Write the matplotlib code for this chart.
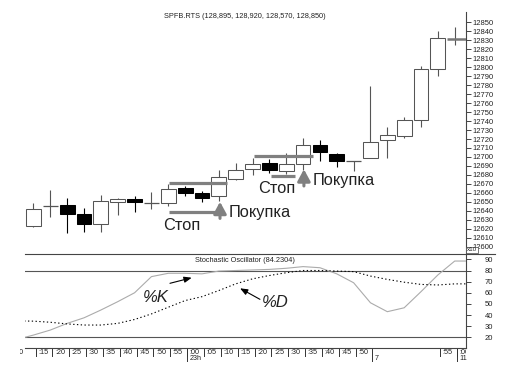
#!/usr/bin/env python3

import matplotlib
matplotlib.use('Agg')
import matplotlib.pyplot as plt
import numpy as np
from matplotlib.lines import Line2D
from matplotlib.transforms import Bbox, TransformedBbox

plt.rcParams['font.family'] = ['Liberation Sans', 'DejaVu Sans']

# --- dados ---
abertura = [12623.5, 12645, 12647, 12636.5, 12625, 12650, 12653, 12648.5, 12648.5, 12665,
            12659.5, 12656, 12676, 12686.5, 12693, 12684.5, 12692, 12713.5, 12703.5, 12695,
            12698.5, 12719, 12723.5, 12741, 12797.5, 12831]
maxima = [12648.5, 12663, 12654, 12643, 12657.5, 12654, 12656, 12661.5, 12669.5, 12667.5,
          12662.5, 12686, 12693.5, 12698.5, 12697.5, 12704, 12721, 12719, 12704, 12696,
          12779, 12733.5, 12745, 12801, 12840, 12845]
minima = [12622, 12633, 12615, 12617, 12617, 12635, 12639, 12642, 12645, 12656,
          12650, 12651, 12674, 12680, 12682.5, 12681, 12686, 12696, 12689, 12684,
          12698.5, 12699, 12721, 12733, 12790, 12824.5]
fechamento = [12642.5, 12645, 12637, 12625, 12651.5, 12653, 12650, 12648.5, 12664, 12659.5,
              12654.5, 12678, 12685.5, 12692, 12685.5, 12692, 12713.5, 12705, 12696, 12695,
              12717, 12724, 12741, 12797.5, 12832, 12831]

# estocástico: índices -1 .. 26
idx_osc = list(range(-1, 27))
pct_k = [18, 22, 26.5, 32.5, 37.5, 44.5, 52, 60, 74.5, 77.5, 77.5, 77, 79.5, 80, 80.5, 81,
         82, 83.5, 82.5, 77, 69, 51, 43, 46.5, 61, 76, 88.5, 88.5]
pct_d = [34.7, 34.5, 33.5, 32, 31, 31, 32.5, 36, 41, 47, 53, 56.5, 62, 68, 72.5, 75.5,
         78, 80, 80, 79.5, 79, 75, 72, 69.5, 67.5, 67, 68, 68]

# rótulos do eixo de tempo
minutos = [':15', ':20', ':25', ':30', ':35', ':40', ':45', ':50', ':55', ':00',
           ':05', ':10', ':15', ':20', ':25', ':30', ':35', ':40', ':45', ':50']
minutos_fim = {24: ':55', 25: ':00'}
maiores = {9: '23h', 20: '7', 25: '11'}

# níveis de stop / entrada
topo_linhas = [(12670.7, 8.04, 11.5), (12701.4, 13.09, 16.56)]
stop_linhas = [(12639.1, 8.06, 10.77), (12678.3, 14.1, 15.55)]
setas_compra = [(11.07, 12631.6, 12650.1), (16.05, 12667.7, 12686.3)]

W, H = 512, 371
fig = plt.figure(figsize=(W / 100, H / 100), dpi=100)

x0, x1 = 25, 466
y_sep, y_eixo = 253.7, 348.3
ax1 = fig.add_axes([x0 / W, 1 - y_sep / H, (x1 - x0) / W, y_sep / H])
ax2 = fig.add_axes([x0 / W, 1 - y_eixo / H, (x1 - x0) / W, (y_eixo - y_sep) / H], sharex=ax1)

cor_borda = '#555555'
for i in range(len(abertura)):
    o, h, l, c = abertura[i], maxima[i], minima[i], fechamento[i]
    preto = c < o
    ax1.vlines(i, l, h, color='black' if preto else cor_borda, lw=0.8, zorder=2)
    if o == c:
        if i == len(abertura) - 1:
            ax1.hlines(c, i - 0.44, 25.7, color='#777777', lw=1.8, zorder=3)
        else:
            ax1.hlines(c, i - 0.44, i + 0.44, color=cor_borda, lw=0.9, zorder=3)
        continue
    ax1.bar(i, abs(c - o), bottom=min(o, c), width=0.88,
            facecolor='black' if preto else 'white',
            edgecolor='black' if preto else cor_borda, lw=0.75, zorder=3)

for y, a, b in topo_linhas + stop_linhas:
    ax1.hlines(y, a, b, color='#808080', lw=2.3, zorder=4)
for x, base, ponta in setas_compra:
    ax1.annotate('', xy=(x, ponta), xytext=(x, base),
                 arrowprops=dict(arrowstyle='-|>,head_width=0.38,head_length=0.7',
                                 color='#808080', lw=2.2, shrinkA=0, shrinkB=0), zorder=5)

ax1.text(7.7, 12619, 'Стоп', fontsize=11.8, color='#222222', va='baseline')
ax1.text(11.57, 12633.7, 'Покупка', fontsize=11.8, color='#222222', va='baseline')
ax1.text(13.34, 12659.4, 'Стоп', fontsize=11.8, color='#222222', va='baseline')
ax1.text(16.57, 12668.3, 'Покупка', fontsize=11.8, color='#222222', va='baseline')

ax1.set_xlim(-0.504, 25.67)
ax1.set_ylim(12592.3, 12874.8)
for s in ['left', 'top', 'bottom']:
    ax1.spines[s].set_visible(False)
ax1.spines['right'].set_color('#444444')
ax1.spines['right'].set_linewidth(0.8)
ax1.spines['right'].set_bounds(12592.3, 12861)
ax1.yaxis.tick_right()
ax1.set_yticks(np.arange(12600, 12851, 10))
ax1.tick_params(axis='y', direction='out', length=3.6, width=0.7, color='#444444',
                labelsize=5.5, pad=1, labelcolor='#222222')
ax1.tick_params(axis='x', bottom=False, labelbottom=False)
ax1.text(25.72, 12596.5, 'x10', fontsize=4.5, color='#222222', va='center', ha='left',
         bbox=dict(boxstyle='square,pad=0.1', fc='white', ec='#444444', lw=0.5), zorder=6,
         clip_on=False)

# --- oscilador ---
ax2.plot(idx_osc, pct_k, color='#ababab', lw=0.8, zorder=3)
ax2.plot(idx_osc, pct_d, color='black', lw=0.8, ls=(0, (1.2, 2.2)), zorder=3)
ax2.axhline(80, color='#555555', lw=0.8, zorder=2)
ax2.axhline(20, color='#555555', lw=0.8, zorder=2)
ax2.set_ylim(10.1, 95.1)
ax2.spines['left'].set_visible(False)
for s in ['top', 'bottom', 'right']:
    ax2.spines[s].set_color('#444444')
    ax2.spines[s].set_linewidth(0.8)
ax2.yaxis.tick_right()
ax2.set_yticks(np.arange(20, 91, 10))
ax2.tick_params(axis='y', direction='out', length=3.6, width=0.7, color='#444444',
                labelsize=5.5, pad=10, labelcolor='#222222')
ax2.set_xticks([])

ax2.text(6.48, 52, '%K', fontsize=12, style='italic', color='#222222', va='baseline')
ax2.annotate('', xy=(9.39, 73.5), xytext=(8.10, 68.5),
             arrowprops=dict(arrowstyle='-|>,head_width=0.18,head_length=0.45',
                             color='black', lw=0.8, shrinkA=0, shrinkB=0))
ax2.text(13.54, 47.5, '%D', fontsize=12, style='italic', color='#222222', va='baseline')
ax2.annotate('', xy=(12.26, 64), xytext=(13.44, 54.1),
             arrowprops=dict(arrowstyle='-|>,head_width=0.18,head_length=0.45',
                             color='black', lw=0.8, shrinkA=0, shrinkB=0))

# eixo de tempo desenhado à mão (rótulos à direita das marcas)
trans = ax2.get_xaxis_transform()
alt = y_eixo - y_sep
clip = TransformedBbox(Bbox.from_extents(20 / W, 0, x1 / W, 1), fig.transFigure)
desloc = 0.12
marcas = list(enumerate(minutos)) + list(minutos_fim.items())
for i, rot in marcas:
    xm = i + desloc
    ax2.plot([xm, xm], [0, -7.2 / alt], transform=trans, color='#333333', lw=0.7, clip_on=False)
    t = ax2.text(xm + 0.15, -4.7 / alt, rot, transform=trans, fontsize=5.2, color='#222222',
                 ha='left', va='center')
    t.set_clip_box(clip)
    t.set_clip_on(True)
t = ax2.text(-0.62, -4.7 / alt, ':10', transform=trans, fontsize=5.2, color='#222222',
             ha='right', va='center')
t.set_clip_box(clip)
t.set_clip_on(True)
for i, rot in maiores.items():
    xm = i + desloc
    ax2.plot([xm, xm], [0, -13 / alt], transform=trans, color='#333333', lw=0.7, clip_on=False)
    ax2.text(xm + 0.15, -10.7 / alt, rot, transform=trans, fontsize=5.2, color='#222222',
             ha='left', va='center')

fig.add_artist(Line2D([x1 / W, 495 / W], [1 - y_sep / H, 1 - y_sep / H],
                      color='#444444', lw=0.8))

fig.text(245 / W, 1 - 16.3 / H, 'SPFB.RTS (128,895, 128,920, 128,570, 128,850)',
         fontsize=5.3, ha='center', va='center', color='#222222')
fig.text(245 / W, 1 - 260 / H, 'Stochastic Oscillator (84.2304)',
         fontsize=5.3, ha='center', va='center', color='#222222')

fig.savefig('out.png', dpi=100)
